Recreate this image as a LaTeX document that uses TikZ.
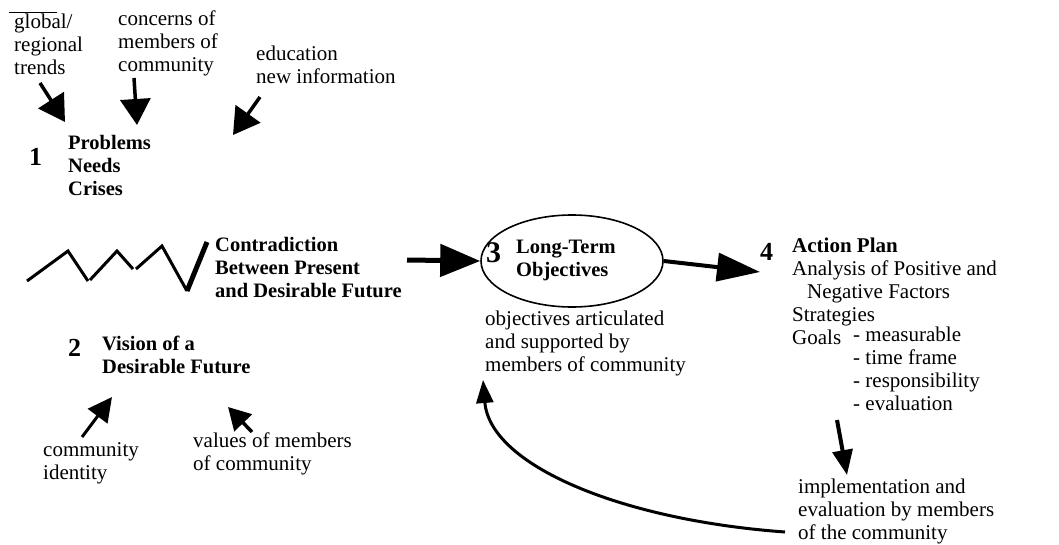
\documentclass[tikz,border=0pt]{standalone}
\usepackage{fontspec}
\setmainfont{Liberation Serif}
\usetikzlibrary{arrows.meta,shapes.geometric}
\tikzset{
  txt/.style={font=\fontsize{21}{23}\selectfont, align=left, inner sep=0pt, anchor=base west},
  btxt/.style={font=\fontsize{20.5}{23}\selectfont\bfseries, align=left, inner sep=0pt, anchor=base west},
  numlbl/.style={font=\fontsize{26}{26}\selectfont\bfseries, inner sep=0pt, anchor=base west},
  bigarrow/.style={line width=3.5pt, -{Triangle[length=26pt,width=30pt]}},
  midarrow/.style={line width=3pt, -{Triangle[length=24pt,width=24pt]}},
  zig/.style={line width=3pt, line cap=butt},
}
\begin{document}
\begin{tikzpicture}[x=1pt,y=-1pt]
\useasboundingbox (0,0) rectangle (1059,545);
% texts (anchor = baseline of the last line)
\node[txt] (gl) at (14,75) {global/\\regional\\trends};
\node[txt] (cn) at (118,72) {concerns of\\members of\\community};
\node[txt] (ed) at (256,84) {education\\new information};
\node[numlbl] (n1) at (29,166) {1};
\node[btxt] (pr) at (68,196) {Problems\\Needs\\Crises};
\node[btxt] (contra) at (215,297) {Contradiction\\Between Present\\and Desirable Future};
\node[numlbl] (n2) at (68,356) {2};
\node[btxt] (vis) at (102,373) {Vision of a\\Desirable Future};
\node[txt] (ci) at (43,479) {community\\identity};
\node[txt] (va) at (193,470) {values of members\\of community};
\node[ellipse, draw, line width=1.6pt, minimum width=182pt, minimum height=92pt, inner sep=0pt] (lt) at (572,261) {};
\node[numlbl, font=\fontsize{30}{30}\selectfont\bfseries] (n3) at (486,262) {3};
\node[btxt] (ltt) at (516,276) {Long-Term\\Objectives};
\node[txt] (ob) at (485,371) {objectives articulated\\and supported by\\members of community};
\node[numlbl] (n4) at (760,261) {4};
\node[txt] (ap) at (792,344) {\textbf{Action Plan}\\Analysis of Positive and\\\hspace*{15pt}Negative Factors\\Strategies\\Goals};
\node[txt] (gl2) at (853,410) {- measurable\\- time frame\\- responsibility\\- evaluation};
\node[txt] (im) at (798,539) {implementation and\\evaluation by members\\of the community};
% overline
\coordinate (ol1) at (9,12); \coordinate (ol2) at (57,12);
\draw[line width=0.8pt] (ol1) -- (ol2);
% zigzag
\coordinate (z1) at (27,281); \coordinate (z2) at (68,251); \coordinate (z3) at (88,281);
\coordinate (z4) at (90,280); \coordinate (z5) at (117,251); \coordinate (z6) at (133,269);
\coordinate (z7) at (136,269); \coordinate (z8) at (162,246); \coordinate (z9) at (187,291);
\coordinate (z10) at (207,242);
\draw[zig] (z1) -- (z2) -- (z3);
\draw[zig] (z4) -- (z5) -- (z6);
\draw[zig] (z7) -- (z8) -- (z9);
\draw[line width=5pt] (z9) -- (z10);
% arrows
\coordinate (a1s) at (40,83); \coordinate (a1e) at (65,122);
\coordinate (a2s) at (134,78); \coordinate (a2e) at (137,125);
\coordinate (a3s) at (260,97); \coordinate (a3e) at (233,135);
\draw[bigarrow] (a1s) -- (a1e);
\draw[bigarrow] (a2s) -- (a2e);
\draw[bigarrow] (a3s) -- (a3e);
\coordinate (a4s) at (407,260);
\draw[line width=5pt, -{Triangle[length=40pt,width=32pt]}] (a4s) -- (lt.west);
\coordinate (a5e) at (760,272);
\draw[line width=4pt, -{Triangle[length=43pt,width=28pt]}] (lt.east) -- (a5e);
\coordinate (a6s) at (837,420); \coordinate (a6e) at (847,475);
\draw[line width=4pt, -{Triangle[length=25pt,width=20pt]}] (a6s) -- (a6e);
\coordinate (a7s) at (82,437); \coordinate (a7e) at (112,397);
\draw[midarrow] (a7s) -- (a7e);
\coordinate (a8s) at (252,432); \coordinate (a8e) at (228,407);
\draw[line width=3.5pt, -{Triangle[length=22pt,width=24pt]}] (a8s) -- (a8e);
% feedback curve
\coordinate (cs) at (785,532); \coordinate (ce) at (483,380);
\draw[line width=3pt, -{Triangle[length=23pt,width=17pt]}] (cs) .. controls (620,520) and (490,465) .. (ce);
\end{tikzpicture}
\end{document}
